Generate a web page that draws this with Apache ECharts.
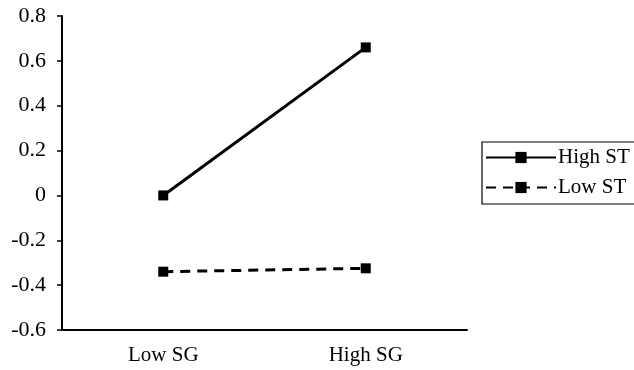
<!DOCTYPE html>
<html><head><meta charset="utf-8">
<script src="https://cdn.jsdelivr.net/npm/echarts@6/dist/echarts.min.js"></script>
<style>html,body{margin:0;padding:0;background:#fff;overflow:hidden}#c{width:634px;height:370px}</style>
</head><body><div id="c"></div>
<script>
const categories = ['Low SG', 'High SG'];
const highST = [0.0, 0.66];
const lowST = [-0.34, -0.325];
const seriesNames = ['High ST', 'Low ST'];

const chart = echarts.init(document.getElementById('c'), null, {renderer: 'canvas'});
const font = 'Liberation Serif';
chart.setOption({
  animation: false,
  backgroundColor: '#fff',
  textStyle: {fontFamily: font},
  grid: {left: 62, right: 167, top: 16, bottom: 40},
  legend: {
    left: 482, top: 142, orient: 'vertical',
    itemWidth: 70, itemHeight: 14, itemGap: 9, padding: [5, 30, 6, 3],
    borderColor: '#000', borderWidth: 1.2,
    textStyle: {fontFamily: font, fontSize: 21, color: '#000', padding: [0,0,0,-3]},
    data: seriesNames
  },
  xAxis: {
    type: 'category', data: categories, boundaryGap: true,
    axisLine: {onZero: false, lineStyle: {color: '#000', width: 2}},
    axisTick: {show: false},
    axisLabel: {color: '#000', fontSize: 21, fontFamily: font, margin: 15}
  },
  yAxis: {
    type: 'value', min: -0.6, max: 0.8, interval: 0.2,
    splitLine: {show: false},
    axisLine: {show: true, lineStyle: {color: '#000', width: 2}},
    axisTick: {show: true, length: 5, lineStyle: {color: '#000', width: 1.5}},
    axisLabel: {color: '#000', fontSize: 22, fontFamily: font, margin: 16,
      formatter: v => String(+v.toFixed(1))}
  },
  series: [
    {name: seriesNames[0], type: 'line', data: highST, symbol: 'rect', symbolSize: 10,
      lineStyle: {color: '#000', width: 3}, itemStyle: {color: '#000'}},
    {name: seriesNames[1], type: 'line', data: lowST, symbol: 'rect', symbolSize: 10,
      lineStyle: {color: '#000', width: 3, type: [10, 7]}, itemStyle: {color: '#000'}}
  ]
});
</script></body></html>
